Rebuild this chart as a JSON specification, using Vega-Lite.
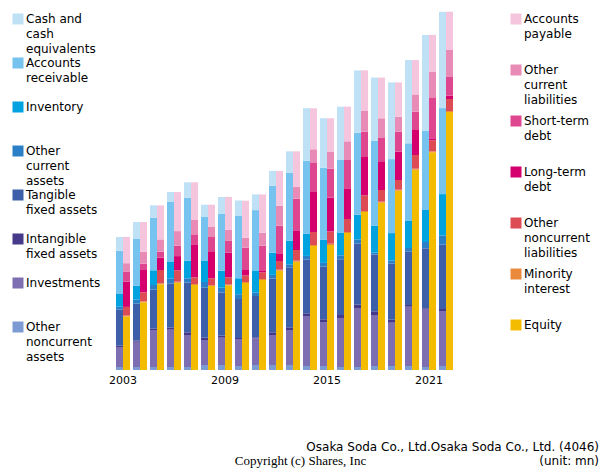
{
  "$schema": "https://vega.github.io/schema/vega-lite/v6.json",
  "width": 341,
  "height": 360,
  "autosize": {"type": "none"},
  "padding": {"left": 114, "top": 10, "right": 145, "bottom": 100},
  "background": "white",
  "config": {
    "view": {"stroke": null},
    "font": "DejaVu Sans",
    "style": {"guide-label": {"lineHeight": 15}}
  },
  "title": {
    "text": ["Osaka Soda Co., Ltd.Osaka Soda Co., Ltd. (4046)", "(unit: mn)"],
    "orient": "bottom",
    "anchor": "end",
    "frame": "group",
    "dx": 144,
    "dy": -25,
    "offset": 0,
    "font": "DejaVu Sans",
    "fontSize": 12,
    "fontWeight": "normal",
    "color": "#000",
    "lineHeight": 13.5
  },
  "datasets": {
    "assets": [
      {"year": 2003, "side": "Assets", "Other noncurrent assets": 3, "Investments": 20, "Intangible fixed assets": 1.3, "Tangible fixed assets": 36, "Other current assets": 3, "Inventory": 12.7, "Accounts receivable": 43.3, "Cash and cash equivalents": 13.7},
      {"year": 2004, "side": "Assets", "Other noncurrent assets": 3, "Investments": 25.3, "Intangible fixed assets": 1.3, "Tangible fixed assets": 36.7, "Other current assets": 4, "Inventory": 14, "Accounts receivable": 46.7, "Cash and cash equivalents": 17},
      {"year": 2005, "side": "Assets", "Other noncurrent assets": 3, "Investments": 37, "Intangible fixed assets": 1.3, "Tangible fixed assets": 39, "Other current assets": 4.7, "Inventory": 14.7, "Accounts receivable": 52.7, "Cash and cash equivalents": 12.3},
      {"year": 2006, "side": "Assets", "Other noncurrent assets": 3, "Investments": 37.3, "Intangible fixed assets": 2.3, "Tangible fixed assets": 44, "Other current assets": 4.7, "Inventory": 16.7, "Accounts receivable": 60, "Cash and cash equivalents": 10},
      {"year": 2007, "side": "Assets", "Other noncurrent assets": 3, "Investments": 32, "Intangible fixed assets": 2.7, "Tangible fixed assets": 49.7, "Other current assets": 4.3, "Inventory": 17.7, "Accounts receivable": 63, "Cash and cash equivalents": 15.3},
      {"year": 2008, "side": "Assets", "Other noncurrent assets": 5, "Investments": 25, "Intangible fixed assets": 2.3, "Tangible fixed assets": 50, "Other current assets": 5.7, "Inventory": 21, "Accounts receivable": 44, "Cash and cash equivalents": 12.3},
      {"year": 2009, "side": "Assets", "Other noncurrent assets": 5, "Investments": 27.3, "Intangible fixed assets": 2, "Tangible fixed assets": 43.3, "Other current assets": 4.7, "Inventory": 17, "Accounts receivable": 56.7, "Cash and cash equivalents": 17},
      {"year": 2010, "side": "Assets", "Other noncurrent assets": 4, "Investments": 27, "Intangible fixed assets": 1, "Tangible fixed assets": 39, "Other current assets": 4.7, "Inventory": 16, "Accounts receivable": 62.7, "Cash and cash equivalents": 15},
      {"year": 2011, "side": "Assets", "Other noncurrent assets": 5, "Investments": 26.7, "Intangible fixed assets": 1, "Tangible fixed assets": 41.3, "Other current assets": 3.3, "Inventory": 22.3, "Accounts receivable": 60.3, "Cash and cash equivalents": 15.7},
      {"year": 2012, "side": "Assets", "Other noncurrent assets": 5, "Investments": 30, "Intangible fixed assets": 2.7, "Tangible fixed assets": 53.7, "Other current assets": 3.7, "Inventory": 22.3, "Accounts receivable": 66.7, "Cash and cash equivalents": 15},
      {"year": 2013, "side": "Assets", "Other noncurrent assets": 5, "Investments": 35, "Intangible fixed assets": 2.7, "Tangible fixed assets": 60, "Other current assets": 3, "Inventory": 23.7, "Accounts receivable": 68, "Cash and cash equivalents": 21.3},
      {"year": 2014, "side": "Assets", "Other noncurrent assets": 4, "Investments": 50, "Intangible fixed assets": 2.7, "Tangible fixed assets": 53.7, "Other current assets": 3.7, "Inventory": 22, "Accounts receivable": 73, "Cash and cash equivalents": 52.7},
      {"year": 2015, "side": "Assets", "Other noncurrent assets": 4, "Investments": 44, "Intangible fixed assets": 2.7, "Tangible fixed assets": 52.7, "Other current assets": 3.7, "Inventory": 23, "Accounts receivable": 72, "Cash and cash equivalents": 49.7},
      {"year": 2016, "side": "Assets", "Other noncurrent assets": 3, "Investments": 49, "Intangible fixed assets": 3, "Tangible fixed assets": 55.7, "Other current assets": 4, "Inventory": 22.3, "Accounts receivable": 73, "Cash and cash equivalents": 53.3},
      {"year": 2017, "side": "Assets", "Other noncurrent assets": 3, "Investments": 59, "Intangible fixed assets": 3.3, "Tangible fixed assets": 61.3, "Other current assets": 4, "Inventory": 24.7, "Accounts receivable": 82, "Cash and cash equivalents": 62.3},
      {"year": 2018, "side": "Assets", "Other noncurrent assets": 4, "Investments": 51, "Intangible fixed assets": 3.7, "Tangible fixed assets": 56.7, "Other current assets": 2, "Inventory": 27, "Accounts receivable": 85, "Cash and cash equivalents": 63},
      {"year": 2019, "side": "Assets", "Other noncurrent assets": 4, "Investments": 43.3, "Intangible fixed assets": 3, "Tangible fixed assets": 56, "Other current assets": 3.3, "Inventory": 27.3, "Accounts receivable": 74, "Cash and cash equivalents": 76.7},
      {"year": 2020, "side": "Assets", "Other noncurrent assets": 4, "Investments": 59.3, "Intangible fixed assets": 1.7, "Tangible fixed assets": 53.3, "Other current assets": 3.7, "Inventory": 27, "Accounts receivable": 77.7, "Cash and cash equivalents": 83.3},
      {"year": 2021, "side": "Assets", "Other noncurrent assets": 3, "Investments": 58, "Intangible fixed assets": 0.7, "Tangible fixed assets": 60, "Other current assets": 6.3, "Inventory": 32, "Accounts receivable": 79, "Cash and cash equivalents": 96},
      {"year": 2022, "side": "Assets", "Other noncurrent assets": 4, "Investments": 55, "Intangible fixed assets": 2, "Tangible fixed assets": 64.3, "Other current assets": 9.3, "Inventory": 41.3, "Accounts receivable": 86, "Cash and cash equivalents": 96.3}
    ],
    "liabilities": [
      {"year": 2003, "side": "Liabilities", "Equity": 53.7, "Minority interest": 0.7, "Other noncurrent liabilities": 8.7, "Long-term debt": 25.3, "Short-term debt": 9.7, "Other current liabilities": 8.7, "Accounts payable": 26.3},
      {"year": 2004, "side": "Liabilities", "Equity": 67.7, "Minority interest": 1, "Other noncurrent liabilities": 9, "Long-term debt": 22.3, "Short-term debt": 6.3, "Other current liabilities": 12, "Accounts payable": 29.7},
      {"year": 2005, "side": "Liabilities", "Equity": 85.7, "Minority interest": 1, "Other noncurrent liabilities": 13.3, "Long-term debt": 12.3, "Short-term debt": 6, "Other current liabilities": 12.3, "Accounts payable": 34},
      {"year": 2006, "side": "Liabilities", "Equity": 87.3, "Minority interest": 1, "Other noncurrent liabilities": 11.3, "Long-term debt": 14.3, "Short-term debt": 10.3, "Other current liabilities": 14.7, "Accounts payable": 39},
      {"year": 2007, "side": "Liabilities", "Equity": 85, "Minority interest": 1, "Other noncurrent liabilities": 6.7, "Long-term debt": 33, "Short-term debt": 10, "Other current liabilities": 14.3, "Accounts payable": 37.7},
      {"year": 2008, "side": "Liabilities", "Equity": 84, "Minority interest": 0.7, "Other noncurrent liabilities": 7, "Long-term debt": 26.3, "Short-term debt": 15, "Other current liabilities": 10, "Accounts payable": 22.3},
      {"year": 2009, "side": "Liabilities", "Equity": 84.7, "Minority interest": 0.7, "Other noncurrent liabilities": 7.3, "Long-term debt": 24.7, "Short-term debt": 11.7, "Other current liabilities": 11, "Accounts payable": 33},
      {"year": 2010, "side": "Liabilities", "Equity": 87, "Minority interest": 1, "Other noncurrent liabilities": 6.7, "Long-term debt": 5.3, "Short-term debt": 22.3, "Other current liabilities": 10, "Accounts payable": 37},
      {"year": 2011, "side": "Liabilities", "Equity": 90, "Minority interest": 1, "Other noncurrent liabilities": 6.7, "Long-term debt": 1.3, "Short-term debt": 25.3, "Other current liabilities": 13, "Accounts payable": 38.3},
      {"year": 2012, "side": "Liabilities", "Equity": 99.3, "Minority interest": 1, "Other noncurrent liabilities": 8.7, "Long-term debt": 7.7, "Short-term debt": 27.7, "Other current liabilities": 19.7, "Accounts payable": 35},
      {"year": 2013, "side": "Liabilities", "Equity": 108.3, "Minority interest": 1, "Other noncurrent liabilities": 10.7, "Long-term debt": 19.7, "Short-term debt": 31.7, "Other current liabilities": 12, "Accounts payable": 35.3},
      {"year": 2014, "side": "Liabilities", "Equity": 124, "Minority interest": 1, "Other noncurrent liabilities": 13, "Long-term debt": 40, "Short-term debt": 29, "Other current liabilities": 13.7, "Accounts payable": 41},
      {"year": 2015, "side": "Liabilities", "Equity": 125, "Minority interest": 1.3, "Other noncurrent liabilities": 12.3, "Long-term debt": 33.7, "Short-term debt": 29, "Other current liabilities": 16.7, "Accounts payable": 33.7},
      {"year": 2016, "side": "Liabilities", "Equity": 137, "Minority interest": 1, "Other noncurrent liabilities": 13, "Long-term debt": 30.7, "Short-term debt": 28.3, "Other current liabilities": 18.7, "Accounts payable": 34.7},
      {"year": 2017, "side": "Liabilities", "Equity": 158, "Minority interest": 1, "Other noncurrent liabilities": 15.7, "Long-term debt": 38.3, "Short-term debt": 25.3, "Other current liabilities": 20.7, "Accounts payable": 40.7},
      {"year": 2018, "side": "Liabilities", "Equity": 167.3, "Minority interest": 1, "Other noncurrent liabilities": 11.7, "Long-term debt": 28, "Short-term debt": 24, "Other current liabilities": 19.7, "Accounts payable": 40.7},
      {"year": 2019, "side": "Liabilities", "Equity": 179.3, "Minority interest": 1, "Other noncurrent liabilities": 9.7, "Long-term debt": 28.3, "Short-term debt": 20, "Other current liabilities": 15, "Accounts payable": 34.3},
      {"year": 2020, "side": "Liabilities", "Equity": 200.3, "Minority interest": 1, "Other noncurrent liabilities": 13.7, "Long-term debt": 25, "Short-term debt": 18.3, "Other current liabilities": 17.3, "Accounts payable": 34.3},
      {"year": 2021, "side": "Liabilities", "Equity": 217.7, "Minority interest": 1, "Other noncurrent liabilities": 11, "Long-term debt": 2, "Short-term debt": 41, "Other current liabilities": 25.7, "Accounts payable": 36.7},
      {"year": 2022, "side": "Liabilities", "Equity": 258, "Minority interest": 1, "Other noncurrent liabilities": 12, "Long-term debt": 3.3, "Short-term debt": 18.7, "Other current liabilities": 27, "Accounts payable": 38.3}
    ]
  },
  "encoding": {
    "x": {
      "field": "year",
      "type": "ordinal",
      "scale": {"paddingInner": 0.17647, "paddingOuter": 0.11765},
      "axis": {
        "values": [2003, 2009, 2015, 2021],
        "labelAngle": 0,
        "domain": false,
        "ticks": false,
        "tickSize": 0,
        "labelPadding": 4,
        "labelFont": "DejaVu Sans",
        "labelFontSize": 11,
        "labelColor": "#000",
        "title": "Copyright (c) Shares, Inc",
        "titleFont": "Liberation Serif",
        "titleFontSize": 13,
        "titleFontWeight": "normal",
        "titleColor": "#000",
        "titleX": 186,
        "titleY": 94,
        "titleAlign": "center",
        "titleBaseline": "alphabetic"
      }
    },
    "xOffset": {
      "field": "side",
      "type": "nominal",
      "scale": {"domain": ["Assets", "Liabilities"], "paddingInner": 0, "paddingOuter": 0}
    },
    "y": {
      "field": "value",
      "type": "quantitative",
      "stack": "zero",
      "scale": {"domain": [0, 360], "nice": false},
      "axis": null
    },
    "order": {"field": "stackOrder", "type": "quantitative"}
  },
  "layer": [
    {
      "data": {"name": "assets"},
      "transform": [
        {"fold": ["Other noncurrent assets", "Investments", "Intangible fixed assets", "Tangible fixed assets", "Other current assets", "Inventory", "Accounts receivable", "Cash and cash equivalents"], "as": ["item", "value"]},
        {"calculate": "indexof(['Other noncurrent assets', 'Investments', 'Intangible fixed assets', 'Tangible fixed assets', 'Other current assets', 'Inventory', 'Accounts receivable', 'Cash and cash equivalents'], datum.item)", "as": "stackOrder"}
      ],
      "mark": {"type": "bar"},
      "encoding": {
        "color": {
          "field": "item",
          "type": "nominal",
          "scale": {
            "domain": ["Cash and cash equivalents", "Accounts receivable", "Inventory", "Other current assets", "Tangible fixed assets", "Intangible fixed assets", "Investments", "Other noncurrent assets"],
            "range": ["#bfe1f6", "#76c3ef", "#00a3e0", "#2b7fc6", "#3d5fa9", "#45398a", "#7d6db1", "#7d9bd3"]
          },
          "legend": {
            "title": null,
            "orient": "none",
            "legendX": -102,
            "legendY": 3,
            "padding": 0,
            "symbolType": "square",
            "symbolSize": 121,
            "symbolStrokeWidth": 0,
            "symbolOpacity": 1,
            "labelFont": "DejaVu Sans",
            "labelFontSize": 12,
            "labelColor": "#000",
            "labelOffset": 2,
            "labelLimit": 200,
            "rowPadding": 2,
            "gridAlign": "all",
            "labelExpr": "datum.label == 'Cash and cash equivalents' ? ['Cash and', 'cash', 'equivalents'] : datum.label == 'Accounts receivable' ? ['Accounts', 'receivable'] : datum.label == 'Other current assets' ? ['Other', 'current', 'assets'] : datum.label == 'Tangible fixed assets' ? ['Tangible', 'fixed assets'] : datum.label == 'Intangible fixed assets' ? ['Intangible', 'fixed assets'] : datum.label == 'Other noncurrent assets' ? ['Other', 'noncurrent', 'assets'] : datum.label"
          }
        }
      }
    },
    {
      "data": {"name": "liabilities"},
      "transform": [
        {"fold": ["Equity", "Minority interest", "Other noncurrent liabilities", "Long-term debt", "Short-term debt", "Other current liabilities", "Accounts payable"], "as": ["item", "value"]},
        {"calculate": "indexof(['Equity', 'Minority interest', 'Other noncurrent liabilities', 'Long-term debt', 'Short-term debt', 'Other current liabilities', 'Accounts payable'], datum.item)", "as": "stackOrder"}
      ],
      "mark": {"type": "bar"},
      "encoding": {
        "color": {
          "field": "item",
          "type": "nominal",
          "scale": {
            "domain": ["Accounts payable", "Other current liabilities", "Short-term debt", "Long-term debt", "Other noncurrent liabilities", "Minority interest", "Equity"],
            "range": ["#f4c5dc", "#e98bb7", "#de4790", "#d5006d", "#dd4b55", "#ea8a3d", "#f4bc00"]
          },
          "legend": {
            "title": null,
            "orient": "none",
            "legendX": 396,
            "legendY": 3,
            "padding": 0,
            "symbolType": "square",
            "symbolSize": 121,
            "symbolStrokeWidth": 0,
            "symbolOpacity": 1,
            "labelFont": "DejaVu Sans",
            "labelFontSize": 12,
            "labelColor": "#000",
            "labelOffset": 2,
            "labelLimit": 200,
            "rowPadding": 9,
            "gridAlign": "all",
            "labelExpr": "datum.label == 'Accounts payable' ? ['Accounts', 'payable'] : datum.label == 'Other current liabilities' ? ['Other', 'current', 'liabilities'] : datum.label == 'Short-term debt' ? ['Short-term', 'debt'] : datum.label == 'Long-term debt' ? ['Long-term', 'debt'] : datum.label == 'Other noncurrent liabilities' ? ['Other', 'noncurrent', 'liabilities'] : datum.label == 'Minority interest' ? ['Minority', 'interest'] : datum.label"
          }
        }
      }
    }
  ],
  "resolve": {"scale": {"color": "independent"}, "legend": {"color": "independent"}}
}
